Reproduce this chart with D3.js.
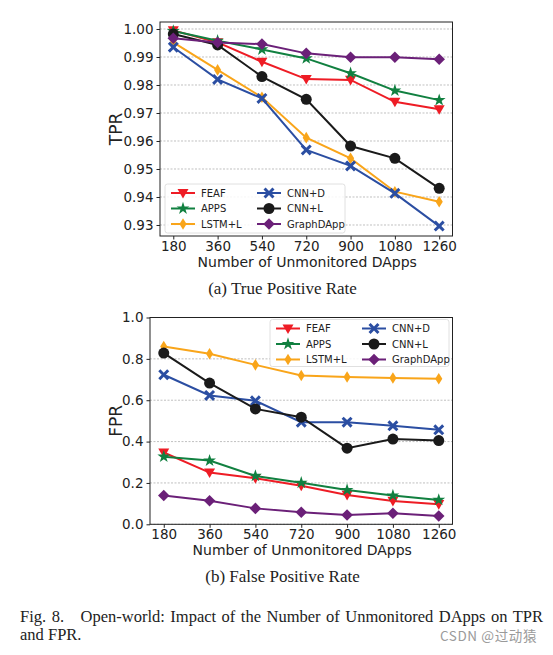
<!DOCTYPE html>
<html><head><meta charset="utf-8">
<script src="https://cdn.jsdelivr.net/npm/d3@7"></script>
<style>
body{margin:0;background:#fff;}
svg{display:block;}
</style></head>
<body>
<svg id="c" width="553" height="655"></svg>
<script>
const xValues = [180, 360, 540, 720, 900, 1080, 1260];
const seriesNames = ["FEAF", "APPS", "LSTM+L", "CNN+D", "CNN+L", "GraphDApp"];
const seriesColors = ["#ee1c25", "#118040", "#f9a51a", "#2b4ea2", "#1a1a1a", "#6b2078"];
const seriesMarkers = ["tri", "star", "thin", "x", "circle", "diamond"];

const tprFEAF  = [0.9995, 0.9952, 0.9883, 0.9821, 0.9818, 0.9740, 0.9713];
const tprAPPS  = [0.9993, 0.9958, 0.9927, 0.9895, 0.9842, 0.9780, 0.9746];
const tprLSTM  = [0.9952, 0.9854, 0.9756, 0.9612, 0.9538, 0.9419, 0.9383];
const tprCNND  = [0.9935, 0.9820, 0.9752, 0.9568, 0.9511, 0.9413, 0.9296];
const tprCNNL  = [0.9982, 0.9943, 0.9830, 0.9749, 0.9582, 0.9538, 0.9431];
const tprGraph = [0.9967, 0.9952, 0.9946, 0.9913, 0.9899, 0.9899, 0.9892];

const fprFEAF  = [0.347, 0.250, 0.223, 0.186, 0.142, 0.113, 0.097];
const fprAPPS  = [0.327, 0.308, 0.234, 0.201, 0.166, 0.139, 0.118];
const fprLSTM  = [0.860, 0.825, 0.771, 0.720, 0.712, 0.707, 0.704];
const fprCNND  = [0.723, 0.623, 0.597, 0.494, 0.494, 0.476, 0.457];
const fprCNNL  = [0.828, 0.683, 0.558, 0.518, 0.368, 0.412, 0.405];
const fprGraph = [0.139, 0.114, 0.077, 0.058, 0.045, 0.053, 0.040];

const tprTicks = ["0.93", "0.94", "0.95", "0.96", "0.97", "0.98", "0.99", "1.00"];
const fprTicks = ["0.0", "0.2", "0.4", "0.6", "0.8", "1.0"];

const svg = d3.select("#c");
const FONT = "DejaVu Sans, sans-serif";

function markerPath(type, s) {
  const r = s / 2;
  switch (type) {
    case "tri": return `M${-r},${-r*0.75}L${r},${-r*0.75}L0,${r}Z`;
    case "thin": return `M0,${-r*1.05}L${r*0.65},0L0,${r*1.05}L${-r*0.65},0Z`;
    case "diamond": return `M0,${-r*1.05}L${r*1.05},0L0,${r*1.05}L${-r*1.05},0Z`;
    case "circle": return d3.symbol(d3.symbolCircle, Math.PI * r * r)();
    case "star": return d3.symbol(d3.symbolStar, s * s * 0.42)();
    case "x": {
      const a = r, w = r * 0.38;
      return `M${-a+w},${-a}L0,${-w}L${a-w},${-a}L${a},${-a+w}L${w},0L${a},${a-w}L${a-w},${a}L0,${w}L${-a+w},${a}L${-a},${a-w}L${-w},0L${-a},${-a+w}Z`;
    }
  }
}

function drawChart(cfg) {
  const g = svg.append("g");
  const x = d3.scaleLinear().domain([126, 1314]).range([cfg.left, cfg.right]);
  const y = d3.scaleLinear().domain(cfg.yDomain).range([cfg.bottom, cfg.top]);
  const tickVals = cfg.ticks.map(Number);

  g.append("g").selectAll("line").data(tickVals).join("line")
    .attr("x1", cfg.left).attr("x2", cfg.right)
    .attr("y1", d => y(d)).attr("y2", d => y(d))
    .attr("stroke", "#b0b0b0").attr("stroke-width", 0.8).attr("stroke-dasharray", "2,1.5");

  cfg.series.forEach((vals, i) => {
    const pts = xValues.map((xv, j) => [x(xv), y(vals[j])]);
    g.append("path").attr("d", d3.line()(pts))
      .attr("fill", "none").attr("stroke", seriesColors[i]).attr("stroke-width", 2);
    g.append("g").selectAll("path").data(pts).join("path")
      .attr("transform", d => `translate(${d[0]},${d[1]})`)
      .attr("d", markerPath(seriesMarkers[i], cfg.msize))
      .attr("fill", seriesColors[i]);
  });

  g.append("rect").attr("x", cfg.left).attr("y", cfg.top)
    .attr("width", cfg.right - cfg.left).attr("height", cfg.bottom - cfg.top)
    .attr("fill", "none").attr("stroke", "#222").attr("stroke-width", 1);

  const xa = g.append("g").attr("transform", `translate(0,${cfg.bottom})`)
    .call(d3.axisBottom(x).tickValues(xValues).tickSize(3.5).tickPadding(2).tickFormat(d3.format("d")));
  const ya = g.append("g").attr("transform", `translate(${cfg.left},0)`)
    .call(d3.axisLeft(y).tickValues(tickVals).tickSize(3.5).tickPadding(3)
      .tickFormat((d, i) => cfg.ticks[i]));
  [xa, ya].forEach(a => {
    a.select(".domain").remove();
    a.selectAll("text").attr("font-family", FONT).attr("font-size", "13.5px").attr("fill", "#222");
    a.selectAll("line").attr("stroke", "#222");
  });

  g.append("text").attr("x", (cfg.left + cfg.right) / 2 + 1).attr("y", cfg.bottom + 31)
    .attr("text-anchor", "middle").attr("font-family", FONT).attr("font-size", "14px")
    .attr("fill", "#222").text("Number of Unmonitored DApps");
  g.append("text").attr("transform", `translate(${cfg.ylabelX},${(cfg.top + cfg.bottom) / 2}) rotate(-90)`)
    .attr("text-anchor", "middle").attr("font-family", FONT).attr("font-size", "17px")
    .attr("fill", "#222").text(cfg.ylabel);

  const L = cfg.legend;
  g.append("rect").attr("x", L.x).attr("y", L.y).attr("width", L.w).attr("height", L.h)
    .attr("rx", 2.5).attr("fill", "#fff").attr("fill-opacity", 0.85)
    .attr("stroke", "#d8d8d8").attr("stroke-width", 0.8);
  seriesNames.forEach((name, i) => {
    const col = Math.floor(i / 3), row = i % 3;
    const lx = L.x + 6 + col * L.colW, ly = L.y + 9 + row * 15.5;
    g.append("line").attr("x1", lx).attr("x2", lx + 24).attr("y1", ly).attr("y2", ly)
      .attr("stroke", seriesColors[i]).attr("stroke-width", 2);
    g.append("path").attr("transform", `translate(${lx + 12},${ly})`)
      .attr("d", markerPath(seriesMarkers[i], cfg.msize)).attr("fill", seriesColors[i]);
    g.append("text").attr("x", lx + 30).attr("y", ly + 3.5)
      .attr("font-family", FONT).attr("font-size", "10px").attr("fill", "#222").text(name);
  });
}

drawChart({
  left: 160, right: 452.5, top: 22, bottom: 236,
  yDomain: [0.92607, 1.0025], ticks: tprTicks,
  series: [tprFEAF, tprAPPS, tprLSTM, tprCNND, tprCNNL, tprGraph],
  ylabel: "TPR", ylabelX: 122, msize: 11,
  legend: {x: 165, y: 184, w: 180, h: 49, colW: 86}
});

drawChart({
  left: 150, right: 452.5, top: 317.5, bottom: 524.3,
  yDomain: [0, 1.0], ticks: fprTicks,
  series: [fprFEAF, fprAPPS, fprLSTM, fprCNND, fprCNNL, fprGraph],
  ylabel: "FPR", ylabelX: 122, msize: 11,
  legend: {x: 270, y: 319.5, w: 179, h: 47, colW: 86}
});

const SERIF = "Liberation Serif, Times New Roman, serif";
svg.append("text").attr("x", 282.5).attr("y", 294).attr("text-anchor", "middle")
  .attr("font-family", SERIF).attr("font-size", "17px").attr("fill", "#222").text("(a) True Positive Rate");
svg.append("text").attr("x", 282.5).attr("y", 582).attr("text-anchor", "middle")
  .attr("font-family", SERIF).attr("font-size", "17px").attr("fill", "#222").text("(b) False Positive Rate");
const cap = svg.append("text").attr("x", 20).attr("y", 621.5)
  .attr("font-family", SERIF).attr("font-size", "16.5px").attr("fill", "#222")
  .attr("xml:space", "preserve")
  .text("Fig. 8.   Open-world: Impact of the Number of Unmonitored DApps on TPR");
const natural = cap.node().getComputedTextLength();
const nSpaces = (cap.text().match(/ /g) || []).length;
cap.attr("word-spacing", ((523 - natural) / nSpaces).toFixed(2) + "px");
svg.append("text").attr("x", 20).attr("y", 640)
  .attr("font-family", SERIF).attr("font-size", "16.5px").attr("fill", "#222").text("and FPR.");
svg.append("text").attr("x", 537).attr("y", 641).attr("text-anchor", "end")
  .attr("font-family", "Noto Sans CJK SC, sans-serif").attr("font-size", "13.5px")
  .attr("letter-spacing", "0.6px").attr("fill", "#9a9a9a")
  .text("CSDN @过动猿");
</script>
</body></html>
